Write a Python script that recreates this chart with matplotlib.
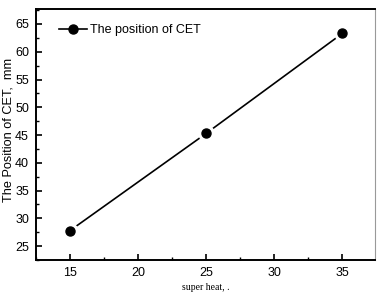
import matplotlib
matplotlib.use("Agg")
import matplotlib.pyplot as plt
from matplotlib.ticker import MultipleLocator

superheat = [15, 25, 35]
cet_position = [27.8, 45.3, 63.3]
series_label = "The position of CET"
x_label = "super heat, ."
y_label = "The Position of CET,  mm"

plt.rcParams['font.family'] = ['Liberation Sans', 'DejaVu Sans']

fig = plt.figure(figsize=(3.77, 2.94), dpi=100)
ax = fig.add_axes([0.0955, 0.1156, 0.8992, 0.8538])

ax.plot(superheat, cet_position, color='black', lw=1.2, zorder=2)
ax.plot(superheat, cet_position, ls='none', marker='o', ms=11, mfc='white', mec='white', zorder=3)
ax.plot(superheat, cet_position, ls='none', marker='o', ms=6.5, mfc='black', mec='black', zorder=4)

# legend handle
ax.plot([], [], color='black', lw=1.2, marker='o', ms=6.5, label=series_label)
h, l = ax.get_legend_handles_labels()
ax.legend(h[-1:], l[-1:], loc='upper left', frameon=False, fontsize=9,
          handlelength=2.2, handletextpad=0.3, bbox_to_anchor=(0.035, 0.985))

ax.set_xlim(12.5, 37.4)
ax.set_ylim(22.5, 67.7)
ax.xaxis.set_major_locator(MultipleLocator(5))
ax.xaxis.set_minor_locator(MultipleLocator(2.5))
ax.yaxis.set_major_locator(MultipleLocator(5))
ax.yaxis.set_minor_locator(MultipleLocator(2.5))
ax.tick_params(which='major', direction='in', length=4, width=1.2, labelsize=9, pad=5)
ax.tick_params(which='minor', direction='in', length=2, width=1.0)
ax.tick_params(top=False, right=False)

for s in ['left', 'bottom', 'top']:
    ax.spines[s].set_linewidth(1.4)
ax.spines['right'].set_linewidth(0.8)
ax.spines['right'].set_color('#999999')

ax.set_ylabel(y_label, fontsize=9.2, va='center')
ax.yaxis.set_label_coords(-0.08, 0.52)
ax.set_xlabel(x_label, fontsize=7, family=['Liberation Serif', 'DejaVu Serif'], labelpad=3)

fig.savefig("out.png", dpi=100)
